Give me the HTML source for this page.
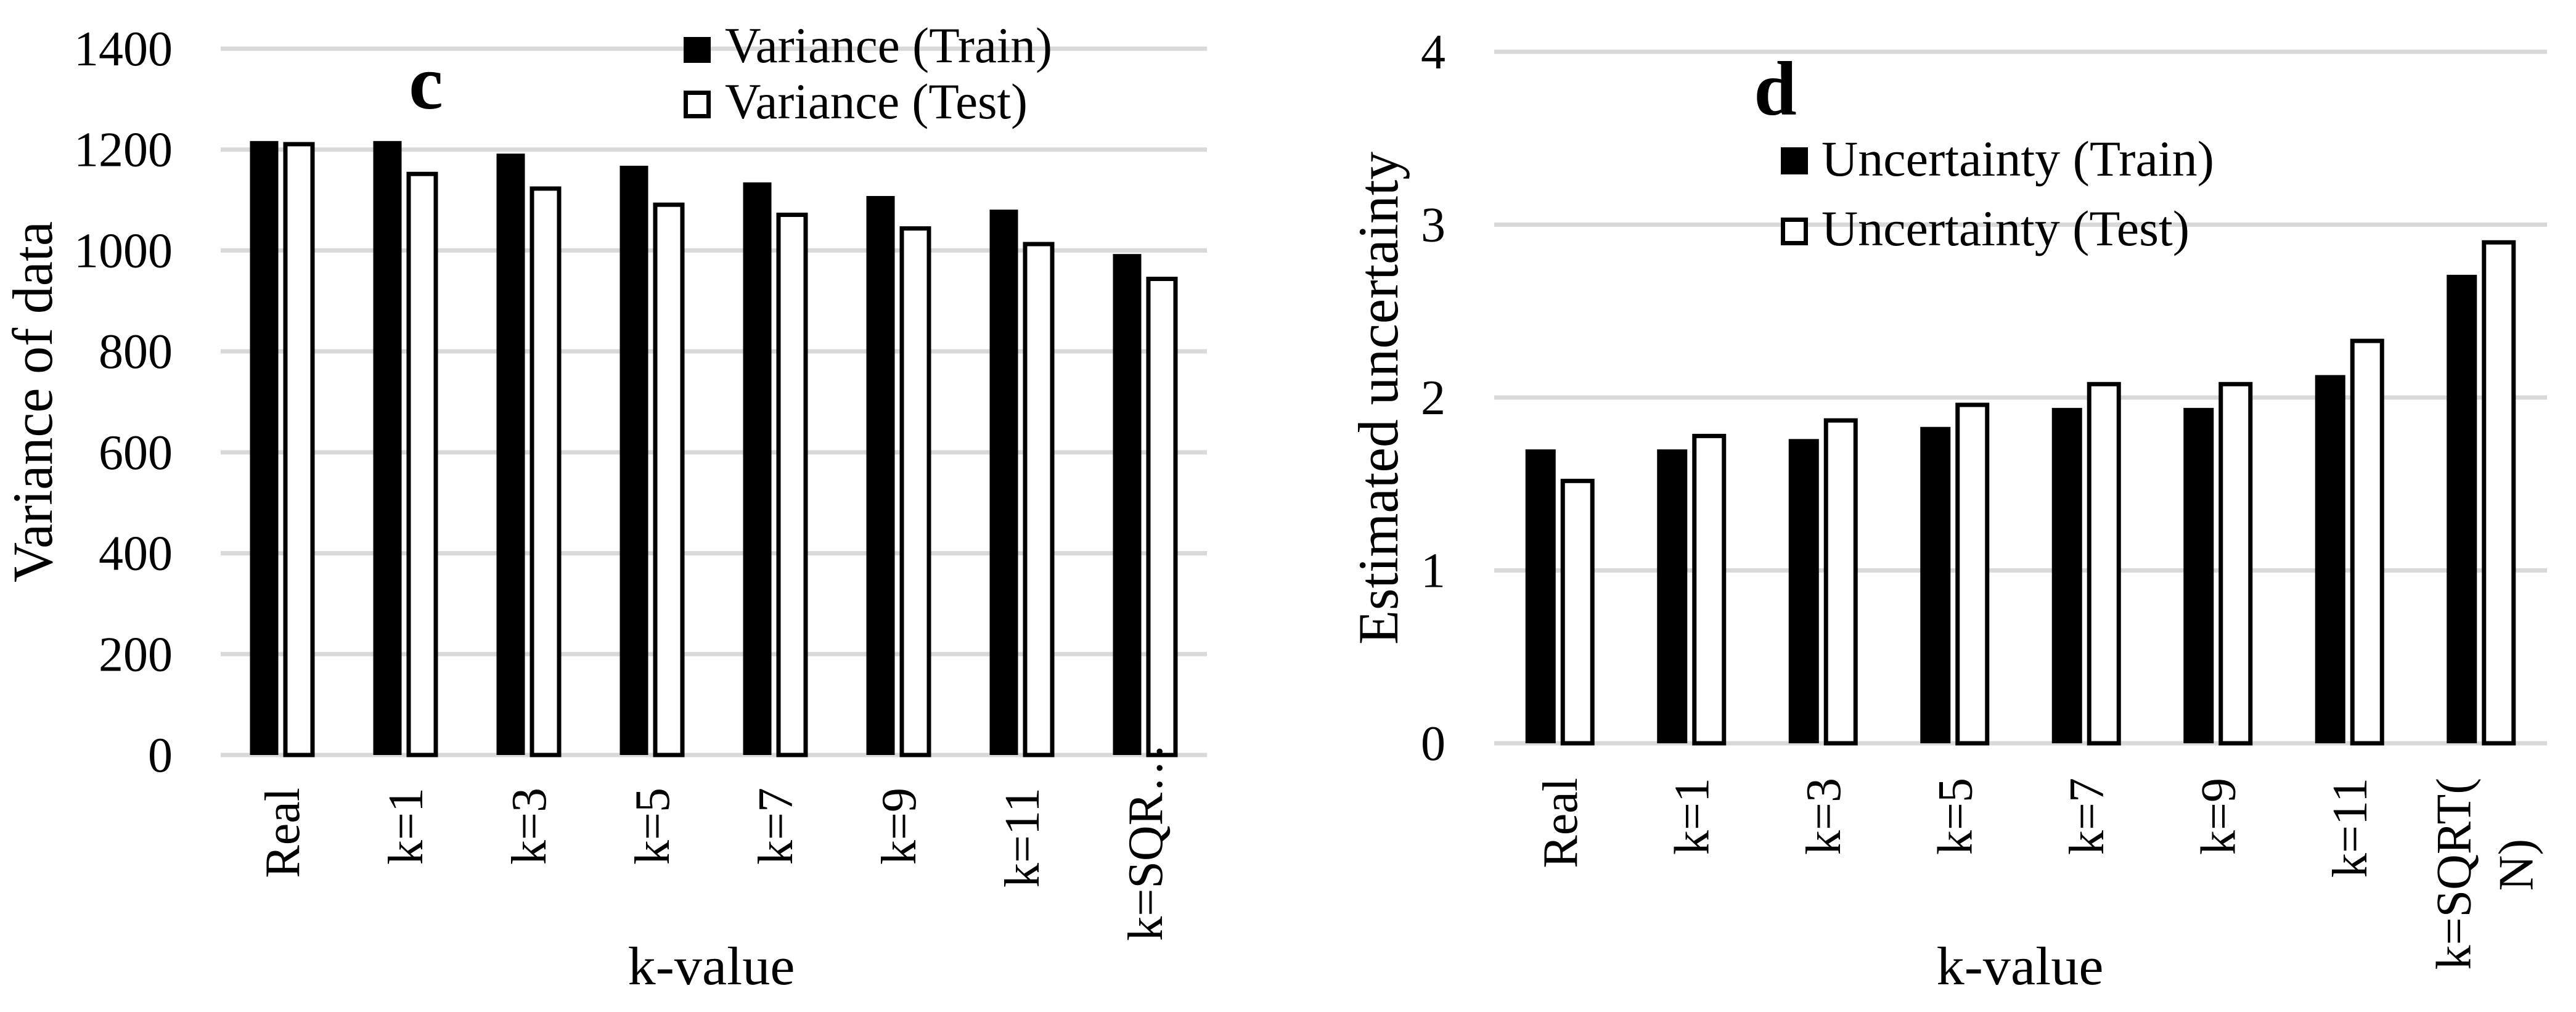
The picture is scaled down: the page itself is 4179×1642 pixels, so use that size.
<!DOCTYPE html>
<html><head><meta charset="utf-8"><style>
html,body{margin:0;padding:0;background:#fff;}
svg{display:block;font-family:"Liberation Serif",serif;}
</style></head><body>
<svg id="svg" width="4179" height="1642" viewBox="0 0 4179 1642" xmlns="http://www.w3.org/2000/svg">
<g id="chartC"></g>
<g id="chartD"></g>
</svg>
<script>
const categories = ["Real","k=1","k=3","k=5","k=7","k=9","k=11","k=SQRT(N)"];
const varTrain = [1217,1217,1192,1168,1135,1108,1081,993];
const varTest = [1215,1156,1127,1095,1075,1048,1017,948];
const varTicks = [0,200,400,600,800,1000,1200,1400];
const uncTrain = [1.70,1.70,1.76,1.83,1.94,1.94,2.13,2.71];
const uncTest = [1.53,1.79,1.88,1.97,2.09,2.09,2.34,2.91];
const uncTicks = [0,1,2,3,4];

const NS="http://www.w3.org/2000/svg";
function mk(parent,tag,attrs,text){
  const e=document.createElementNS(NS,tag);
  for(const k in attrs) e.setAttribute(k,attrs[k]);
  if(text!==undefined) e.textContent=text;
  parent.appendChild(e); return e;
}

function draw(g,cfg){
  const yS=v=>cfg.y0-(v-cfg.vmin)/(cfg.vmax-cfg.vmin)*(cfg.y0-cfg.y1);
  const cw=(cfg.x1-cfg.x0)/categories.length;
  const xC=i=>cfg.x0+cw*(i+0.5);
  cfg.ticks.forEach(t=>{
    const l=mk(g,'line',{x1:cfg.x0,x2:cfg.x1,y1:yS(t),y2:yS(t),stroke:'#d9d9d9','stroke-width':7});
    
    
    const tx=mk(g,'text',{x:cfg.tickX,y:yS(t)+27,'text-anchor':'end','font-size':80},String(t));
    
    
  });
  const gap=8, tot=cfg.bwA+gap+cfg.bwB;
  categories.forEach((c,i)=>{
    const cx=xC(i);
    const a=cfg.train[i], b=cfg.test[i];
    const xa=cx-tot/2, xb=xa+cfg.bwA+gap;
    const r1=mk(g,'rect',{x:xa,y:yS(a),width:cfg.bwA,height:yS(cfg.vmin)-yS(a),fill:'#000'});
    
    
    const r2=mk(g,'rect',{x:xb+3.5,y:yS(b)+3.5,width:cfg.bwB-7,height:yS(cfg.vmin)-yS(b)-3.5,fill:'#fff',stroke:'#000','stroke-width':7});
    
    
    let lines=[{t:c,dx:0,top:cfg.labelTop}];
    if(c.length>6) lines=cfg.longLabel;
    lines.forEach(ln=>{
      const t=mk(g,'text',{x:0,y:0,'text-anchor':'end','font-size':80,transform:`translate(${cx+ln.dx+27},${ln.top}) rotate(-90)`},ln.t);
      
      
    });
  });
}

const gc=document.getElementById('chartC');
draw(gc,{x0:358,x1:1958,y0:1225,y1:79,vmin:0,vmax:1400,ticks:varTicks,train:varTrain,test:varTest,tickX:280,bwA:46,bwB:51,labelTop:1278,longLabel:[{t:"k=SQR…",dx:0,top:1206}]});
const gd=document.getElementById('chartD');
draw(gd,{x0:2424,x1:4132,y0:1206,y1:84,vmin:0,vmax:4,ticks:uncTicks,train:uncTrain,test:uncTest,tickX:2345,bwA:49,bwB:55,labelTop:1262,longLabel:[{t:"k=SQRT(",dx:-45,top:1262},{t:"N)",dx:56,top:1361}]});

function label(g,attrs,text,name){
  const t=mk(g,'text',attrs,text);
  
  
  return t;
}
// Chart c annotations
label(gc,{x:0,y:0,'text-anchor':'middle','font-size':92,textLength:586,lengthAdjust:'spacingAndGlyphs',transform:'translate(84,652) rotate(-90)'},'Variance of data','y-axis-title');
label(gc,{x:1154,y:1597,'text-anchor':'middle','font-size':88,textLength:271,lengthAdjust:'spacingAndGlyphs'},'k-value','x-axis-title');
label(gc,{x:691,y:176,'text-anchor':'middle','font-size':125,'font-weight':'bold'},'c','panel-label');
let s=mk(gc,'rect',{x:1109,y:60,width:44,height:42,fill:'#000'});


label(gc,{x:1176,y:101,'font-size':82,textLength:531,lengthAdjust:'spacingAndGlyphs'},'Variance (Train)','legend-entry-train');
s=mk(gc,'rect',{x:1112.5,y:150.5,width:37,height:38,fill:'#fff',stroke:'#000','stroke-width':7});


label(gc,{x:1176,y:192,'font-size':82,textLength:491,lengthAdjust:'spacingAndGlyphs'},'Variance (Test)','legend-entry-test');

// Chart d annotations
label(gd,{x:0,y:0,'text-anchor':'middle','font-size':92,textLength:800,lengthAdjust:'spacingAndGlyphs',transform:'translate(2267,646) rotate(-90)'},'Estimated uncertainty','y-axis-title');
label(gd,{x:3277,y:1597,'text-anchor':'middle','font-size':88,textLength:271,lengthAdjust:'spacingAndGlyphs'},'k-value','x-axis-title');
label(gd,{x:2880,y:186,'text-anchor':'middle','font-size':125,'font-weight':'bold'},'d','panel-label');
s=mk(gd,'rect',{x:2889,y:239,width:44,height:44,fill:'#000'});


label(gd,{x:2955,y:285,'font-size':82,textLength:637,lengthAdjust:'spacingAndGlyphs'},'Uncertainty (Train)','legend-entry-train');
s=mk(gd,'rect',{x:2892.5,y:356.5,width:37,height:38,fill:'#fff',stroke:'#000','stroke-width':7});


label(gd,{x:2955,y:398,'font-size':82,textLength:597,lengthAdjust:'spacingAndGlyphs'},'Uncertainty (Test)','legend-entry-test');
</script>
</body></html>
